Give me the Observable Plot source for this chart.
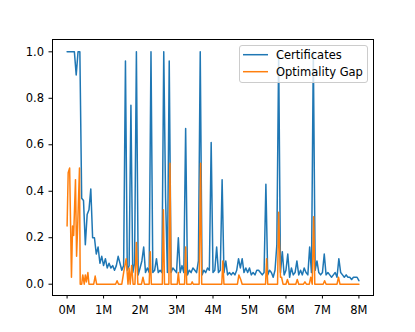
<!DOCTYPE html>
<html><head><meta charset="utf-8">
<script src="https://cdn.jsdelivr.net/npm/d3@7"></script>
<script src="https://cdn.jsdelivr.net/npm/@observablehq/plot@0.6"></script>
<style>body{margin:0;background:#fff}</style>
</head><body><div id="chart"></div>
<script>
// Certificates: sampled every 0.05M steps from 0M to 8M
const certStep = 0.05;
const certY = [
  1,1,1,1,1,0.90,1,1,0.37,0.36,0.17,0.30,0.32,0.41,0.20,0.20,0.13,0.16,0.09,0.12,
  0.08,0.11,0.07,0.09,0.07,0.08,0.06,0.08,0.12,0.09,0.06,0.08,0.96,0.06,0.08,0.77,0.05,0.09,1.0,0.04,
  0.07,0.10,0.16,0.05,0.07,0.05,1.0,0.05,0.06,0.11,0.05,0.06,0.05,1.0,0.37,0.05,0.96,0.05,0.07,0.06,
  0.05,0.20,0.05,0.08,0.05,0.67,0.04,0.06,0.05,0.07,0.06,0.05,0.10,1.0,0.04,0.06,0.05,0.07,0.06,0.61,
  0.05,0.06,0.16,0.05,0.06,0.45,0.05,0.10,0.04,0.05,0.04,0.05,0.04,0.06,0.11,0.07,0.11,0.05,0.07,0.05,
  0.07,0.04,0.05,0.04,0.06,0.06,0.05,0.04,0.05,0.43,0.04,0.06,0.05,0.03,0.06,0.17,0.99,0.05,0.14,0.04,
  0.06,0.13,0.03,0.07,0.04,0.05,0.10,0.04,0.06,0.04,0.07,0.05,0.04,0.16,0.05,1.0,0.06,0.10,0.05,0.04,
  0.05,0.13,0.04,0.05,0.04,0.03,0.04,0.05,0.03,0.11,0.05,0.04,0.03,0.04,0.03,0.03,0.02,0.03,0.03,0.03,
  0.015
];
const certX = certY.map((_, i) => +(i * certStep).toFixed(2));

// Optimality Gap: vertices (x in millions)
const gapX = [0,0.03,0.07,0.12,0.15,0.18,0.23,0.26,0.29,0.34,0.36,0.40,0.43,0.47,0.50,0.53,0.57,0.60,0.73,0.77,0.81,
  1.33,1.37,1.41,1.50,1.55,1.62,1.67,1.70,1.73,1.77,1.81,1.86,1.90,1.94,2.04,2.08,2.12,2.25,2.28,2.31,
  2.61,2.64,2.67,2.79,2.82,2.85,3.02,3.05,3.08,3.22,3.25,3.28,3.40,3.43,3.46,3.62,3.66,3.69,
  4.24,4.27,4.30,4.67,4.71,4.76,4.80,5.44,5.47,5.50,5.77,5.80,5.85,5.88,5.92,6.00,6.04,6.08,
  6.27,6.31,6.35,6.48,6.52,6.56,6.64,6.68,6.72,6.76,6.79,7.02,7.06,7.10,7.40,7.44,7.48,8.0];
const gapY = [0.25,0.48,0.50,0.03,0.25,0.21,0.45,0.12,0.25,0.50,0,0,0.04,0,0.04,0.01,0.05,0,0,0.035,0,
  0,0.015,0,0,0.05,0.11,0,0.07,0,0.08,0,0,0.18,0,0,0.03,0,0,0.14,0,
  0,0.32,0,0,0.52,0,0,0.05,0,0,0.16,0,0,0.01,0,0,0.52,0,
  0,0.10,0,0,0.04,0.02,0,0,0.11,0,0,0.31,0.03,0.03,0,0,0.02,0,
  0,0.02,0,0,0.01,0,0,0.03,0,0.29,0,0,0.015,0,0,0.03,0,0];

const xTicks = [0,1,2,3,4,5,6,7,8];
const xTickLabels = ["0M","1M","2M","3M","4M","5M","6M","7M","8M"];
const yTicks = [0,0.2,0.4,0.6,0.8,1.0];
const yTickLabels = ["0.0","0.2","0.4","0.6","0.8","1.0"];
const seriesNames = ["Certificates","Optimality Gap"];
const seriesColors = ["#1f77b4","#ff7f0e"];

const certData = certX.map((x, i) => ({x, y: certY[i]}));
const gapData = gapX.map((x, i) => ({x, y: gapY[i]}));

const plot = Plot.plot({
  width: 415, height: 332,
  marginLeft: 52, marginRight: 42, marginTop: 39, marginBottom: 37,
  style: {fontFamily: "DejaVu Sans", fontSize: "11.5px", color: "black", background: "white", overflow: "visible"},
  x: {domain: [-0.4, 8.4]},
  y: {domain: [-0.0486, 1.053]},
  marks: [
    Plot.line(certData, {x: "x", y: "y", stroke: seriesColors[0], strokeWidth: 1.5}),
    Plot.line(gapData, {x: "x", y: "y", stroke: seriesColors[1], strokeWidth: 1.5}),
    Plot.axisX({ticks: xTicks, tickFormat: d => xTickLabels[xTicks.indexOf(d)], tickSize: 3.5, tickPadding: 6.5, label: null, fontSize: 11.5}),
    Plot.axisY({ticks: yTicks, tickFormat: d => yTickLabels[yTicks.indexOf(d)], tickSize: 3.5, tickPadding: 5, label: null, fontSize: 11.5}),
    Plot.frame({stroke: "black", strokeWidth: 1})
  ]
});
document.getElementById("chart").appendChild(plot);

// legend (upper right, matplotlib style)
const svg = d3.select(plot);
const lg = svg.append("g").attr("font-family", "DejaVu Sans").attr("font-size", 11.5).attr("text-anchor", "start");
lg.append("rect").attr("x", 239.5).attr("y", 45.5).attr("width", 128).attr("height", 37).attr("rx", 2.5)
  .attr("fill", "white").attr("fill-opacity", 0.8).attr("stroke", "#cccccc").attr("stroke-width", 1);
seriesNames.forEach((name, i) => {
  const yy = 54.7 + i * 17;
  lg.append("line").attr("x1", 243).attr("x2", 268).attr("y1", yy).attr("y2", yy)
    .attr("stroke", seriesColors[i]).attr("stroke-width", 1.5);
  lg.append("text").attr("x", 276).attr("y", yy).attr("dy", "0.35em").attr("text-anchor", "start")
    .attr("fill", "black").text(name);
});
</script>
</body></html>
